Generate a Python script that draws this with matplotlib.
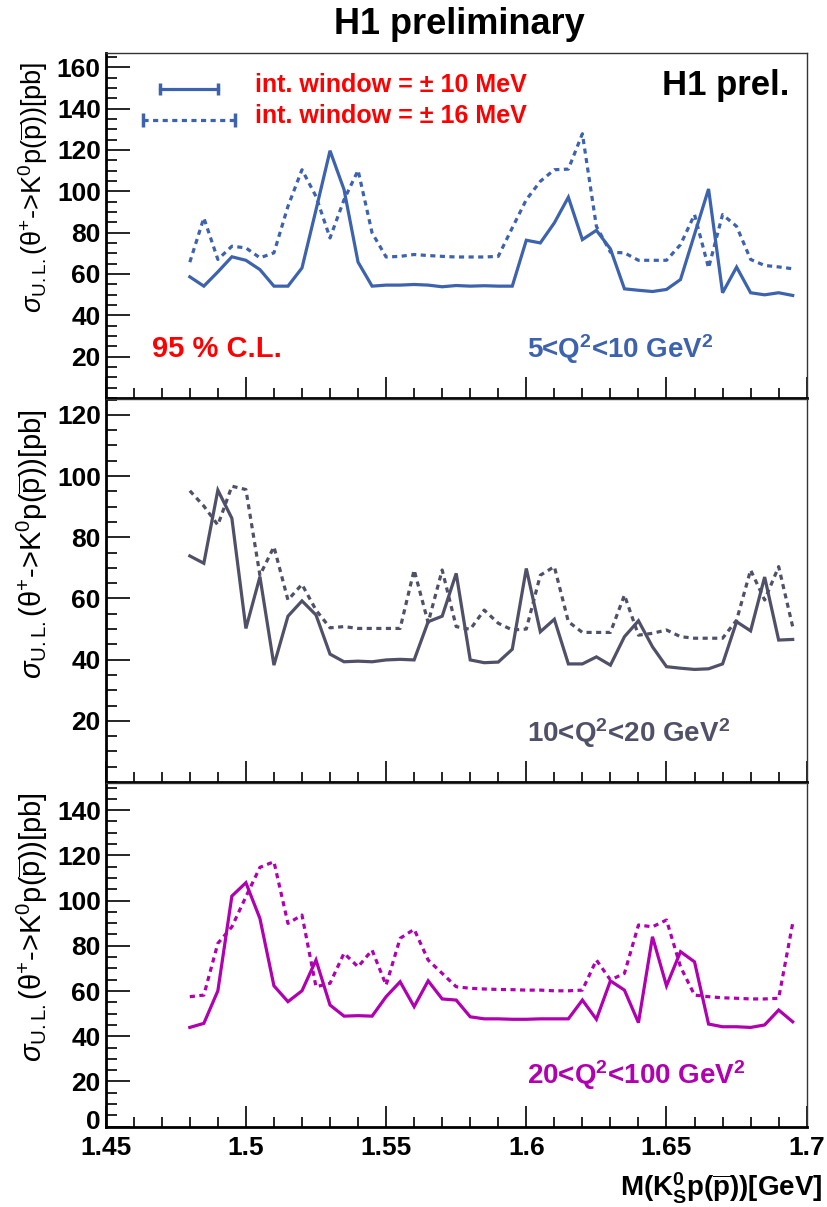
import numpy as np
import matplotlib
matplotlib.use("Agg")
import matplotlib.pyplot as plt
from matplotlib.ticker import MultipleLocator
from matplotlib.transforms import offset_copy

plt.rcParams['font.family'] = ['Liberation Sans', 'DejaVu Sans']
plt.rcParams['mathtext.fontset'] = 'custom'
plt.rcParams['mathtext.rm'] = 'Liberation Sans'
plt.rcParams['mathtext.it'] = 'Liberation Sans:italic'
plt.rcParams['mathtext.bf'] = 'Liberation Sans:bold'
plt.rcParams['mathtext.sf'] = 'Liberation Sans'

# ---------------- data ----------------
mass = [round(1.48 + 0.005 * i, 3) for i in range(44)]

q2_5_10_win10 = [58.6, 54.1, 61.0, 68.3, 66.6, 62.1, 54.1, 54.1, 62.9, 91.0,
                 119.6, 100.8, 65.7, 54.1, 54.6, 54.6, 54.9, 54.6, 53.8, 54.4,
                 54.1, 54.3, 54.1, 54.1, 76.3, 75.0, 84.7, 97.1, 76.6, 81.1,
                 72.1, 52.8, 52.1, 51.5, 52.5, 57.3, 79.2, 101.1, 50.9, 63.3,
                 50.9, 49.9, 50.9, 49.6]
q2_5_10_win16 = [65.7, 87.1, 67.0, 73.4, 72.6, 67.8, 70.2, 92.7, 110.4, 97.5,
                 77.4, 95.9, 110.1, 79.9, 68.2, 68.5, 69.4, 68.9, 68.5, 68.2,
                 68.2, 68.2, 68.5, 82.3, 95.9, 104.8, 110.4, 110.7, 127.8, 83.0,
                 70.5, 70.2, 66.6, 66.6, 66.6, 74.2, 88.7, 62.9, 88.7, 83.0,
                 67.0, 64.1, 63.4, 62.5]

q2_10_20_win10 = [73.9, 71.5, 95.4, 86.2, 50.2, 67.1, 38.2, 54.2, 59.2, 54.6,
                  41.8, 39.3, 39.5, 39.3, 39.9, 40.1, 39.9, 52.4, 54.2, 68.2,
                  39.9, 39.0, 39.2, 43.4, 69.8, 49.1, 53.2, 38.6, 38.6, 40.9,
                  38.2, 47.5, 52.7, 44.2, 37.7, 37.2, 36.8, 37.0, 38.6, 52.4,
                  49.4, 67.0, 46.4, 46.6]
q2_10_20_win16 = [95.2, 90.2, 84.0, 96.7, 95.6, 67.6, 76.9, 59.5, 64.6, 56.2,
                  50.4, 50.8, 50.2, 50.2, 50.2, 50.2, 69.3, 52.1, 69.3, 50.8,
                  49.9, 56.2, 51.9, 49.7, 50.0, 67.6, 70.4, 52.4, 48.9, 48.9,
                  48.9, 61.1, 48.0, 48.6, 49.7, 47.5, 47.0, 47.0, 47.0, 52.9,
                  69.3, 59.5, 70.4, 50.8]

q2_20_100_win10 = [43.9, 45.7, 60.1, 102.0, 107.9, 92.1, 62.3, 55.3, 60.1, 73.7,
                   53.8, 48.9, 49.1, 48.9, 57.5, 64.1, 53.1, 64.5, 56.5, 56.0,
                   48.6, 47.7, 47.7, 47.5, 47.5, 47.7, 47.7, 47.7, 56.0, 47.5,
                   64.5, 60.4, 46.0, 84.0, 62.3, 77.4, 72.9, 45.4, 44.2, 44.2,
                   43.9, 45.0, 51.6, 46.4]
q2_20_100_win16 = [57.5, 58.2, 81.1, 88.4, 101.7, 114.7, 117.2, 89.9, 93.6, 61.9,
                   63.4, 76.7, 70.7, 78.1, 62.6, 83.3, 87.3, 73.7, 67.8, 61.9,
                   61.2, 60.9, 60.7, 60.6, 60.4, 60.4, 60.1, 60.1, 60.4, 73.7,
                   64.9, 67.8, 89.2, 88.4, 91.4, 70.7, 58.2, 57.5, 57.0, 56.8,
                   56.5, 56.5, 56.8, 89.9]

panel_labels = ["5<Q$^{\\mathbf{2}}$<10 GeV$^{\\mathbf{2}}$",
                "10<Q$^{\\mathbf{2}}$<20 GeV$^{\\mathbf{2}}$",
                "20<Q$^{\\mathbf{2}}$<100 GeV$^{\\mathbf{2}}$"]
panel_colors = ["#3d62ae", "#505068", "#b000b0"]
panel_ylims = [167, 125.2, 152]
panel_yticks = [[20, 40, 60, 80, 100, 120, 140, 160],
                [20, 40, 60, 80, 100, 120],
                [0, 20, 40, 60, 80, 100, 120, 140]]
xticks = [1.45, 1.5, 1.55, 1.6, 1.65, 1.7]
xticklabels = ["1.45", "1.5", "1.55", "1.6", "1.65", "1.7"]

series = [(q2_5_10_win10, q2_5_10_win16),
          (q2_10_20_win10, q2_10_20_win16),
          (q2_20_100_win10, q2_20_100_win16)]

# ---------------- layout ----------------
W, H = 827, 1207
fig = plt.figure(figsize=(W / 100, H / 100), dpi=100)
left = 105.7 / W
width = (806.7 - 105.7) / W
bounds = [(52.7, 398.0), (399.0, 782.0), (783.0, 1126.7)]
ylabel_sizes = [19.5, 21, 21]
ylabel_x = [-0.104, -0.104, -0.104]

ylabel = r"$\sigma_{\rm U.L.}$(θ$^{+}$->K$^{0}$p($\overline{\rm p}$))[pb]"
dotted = (0, (1.6, 1.4))

axes = []
for k, (top, bot) in enumerate(bounds):
    ax = fig.add_axes([left, 1 - bot / H, width, (bot - top) / H])
    axes.append(ax)
    c = panel_colors[k]
    s10, s16 = series[k]
    ax.plot(mass, s10, color=c, lw=2.3, solid_joinstyle='miter')
    ax.plot(mass, s16, color=c, lw=2.3, linestyle=dotted)
    ax.set_xlim(1.45, 1.70)
    ax.set_ylim(0, panel_ylims[k])
    ax.xaxis.set_minor_locator(MultipleLocator(0.01))
    ax.set_xticks(xticks)
    ax.yaxis.set_minor_locator(MultipleLocator(5))
    ax.set_yticks(panel_yticks[k])
    ax.set_yticklabels([str(v) for v in panel_yticks[k]], fontweight='bold')
    ax.tick_params(axis='both', which='both', direction='in', top=False, right=False)
    ax.tick_params(axis='y', which='major', length=17, width=1.2, pad=3.5,
                   labelsize=19)
    ax.tick_params(axis='y', which='minor', length=8, width=1.2)
    ax.tick_params(axis='x', which='major', length=15, width=1.2, pad=6.5,
                   labelsize=19)
    ax.tick_params(axis='x', which='minor', length=7.5, width=1.2)
    if k < 2:
        ax.set_xticklabels([])
    else:
        ax.set_xticklabels(xticklabels, fontweight='bold')
    ax.spines['left'].set_linewidth(2.0)
    ax.spines['bottom'].set_linewidth(2.0)
    ax.spines['top'].set_linewidth(1.0)
    ax.spines['right'].set_linewidth(1.0)
    ax.spines['top'].set_color('#333333')
    ax.spines['right'].set_color('#333333')
    ax.text(ylabel_x[k], 0.975, ylabel, transform=ax.transAxes, rotation=90,
            ha='center', va='top', fontsize=ylabel_sizes[k])

# nudge the "0" label of the bottom panel up a little (as in the reference)
for lab in axes[2].get_yticklabels():
    if lab.get_text() == "0":
        lab.set_transform(offset_copy(lab.get_transform(), fig=fig, x=0, y=5, units='points'))

# panel annotations
ax0, ax1, ax2 = axes
ax0.text(0.601, 0.141, panel_labels[0], transform=ax0.transAxes, color=panel_colors[0],
         fontsize=20, fontweight='bold', ha='left', va='center')
ax1.text(0.601, 0.128, panel_labels[1], transform=ax1.transAxes, color=panel_colors[1],
         fontsize=20, fontweight='bold', ha='left', va='center')
ax2.text(0.601, 0.150, panel_labels[2], transform=ax2.transAxes, color=panel_colors[2],
         fontsize=20, fontweight='bold', ha='left', va='center')

ax0.text(0.066, 0.142, "95 % C.L.", transform=ax0.transAxes, color='#ff0000',
         fontsize=21, fontweight='bold', ha='left', va='center')
ax0.text(0.975, 0.905, "H1 prel.", transform=ax0.transAxes, color='black',
         fontsize=25, fontweight='bold', ha='right', va='center')

# legend glyphs
c0 = panel_colors[0]
ax0.plot([0.0775, 0.160], [0.895, 0.895], transform=ax0.transAxes, color=c0, lw=2.3,
         marker='|', markersize=8, markeredgewidth=2.5, clip_on=False)
ax0.plot([0.0532, 0.1845], [0.805, 0.805], transform=ax0.transAxes, color=c0, lw=2.3,
         linestyle=dotted, marker='|', markersize=10, markeredgewidth=2.5, clip_on=False)
ax0.text(0.213, 0.907, "int. window = ± 10 MeV", transform=ax0.transAxes,
         color='#ff0000', fontsize=18, fontweight='bold', ha='left', va='center')
ax0.text(0.213, 0.818, "int. window = ± 16 MeV", transform=ax0.transAxes,
         color='#ff0000', fontsize=18, fontweight='bold', ha='left', va='center')

# title and x label
fig.text(0.556, 1 - 24 / H, "H1 preliminary", fontsize=26, fontweight='bold',
         ha='center', va='center')
fig.text(823 / W, 1 - 1188 / H, r"M(K$^{\mathbf{0}}_{\mathbf{S}}$p($\overline{\mathbf{p}}$))[GeV]",
         fontsize=20, fontweight='bold', ha='right', va='center')

fig.savefig("out.png", dpi=100, facecolor='white')
